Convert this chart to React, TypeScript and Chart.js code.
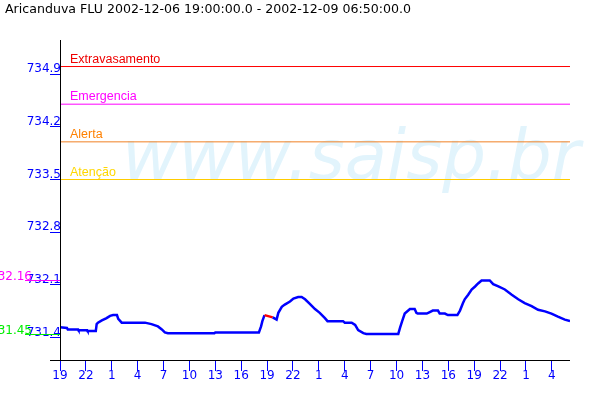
import React, { useEffect, useRef } from "react";
import { Chart, registerables } from "chart.js";

Chart.register(...registerables);

const TITLE = "Aricanduva FLU 2002-12-06 19:00:00.0 - 2002-12-09 06:50:00.0";
const START_HOUR = 19;
const X_MAX = 59.1;
const Y_MIN = 731.104;
const Y_MAX = 735.352;

// hours elapsed since 2002-12-06 19:00
const hours = [
  0, 0.8, 0.9, 2.1, 2.15, 3.15, 3.2, 4.15, 4.25, 4.4, 4.85, 5.4, 5.8, 6.15, 6.6, 6.75, 7.15, 9.85,
  10.6, 11.35, 11.8, 12.15, 12.5, 17.9, 18.0, 23.05, 23.3, 23.45, 23.7, 24.65, 25.1, 25.3, 25.7,
  26.05, 26.65, 27.05, 27.6, 28.0, 28.4, 28.95, 29.55, 30.1, 30.7, 31.0, 32.8, 33.0, 33.8, 34.2,
  34.55, 35.15, 35.5, 39.2, 39.4, 39.65, 39.95, 40.55, 41.1, 41.3, 41.45, 42.5, 42.85, 43.2, 43.8,
  44.0, 44.6, 44.95, 46.05, 46.35, 46.7, 46.9, 47.3, 47.7, 48.1, 48.45, 48.85, 49.8, 50.2, 50.8,
  51.55, 52.35, 53.1, 53.85, 54.65, 55.4, 56.2, 56.95, 57.7, 58.5, 59.1,
];
const levels = [
  731.54, 731.53, 731.51, 731.51, 731.5, 731.5, 731.49, 731.49, 731.58, 731.6, 731.63, 731.66,
  731.69, 731.7, 731.7, 731.65, 731.6, 731.6, 731.58, 731.55, 731.51, 731.47, 731.46, 731.46,
  731.47, 731.47, 731.55, 731.62, 731.7, 731.67, 731.64, 731.73, 731.81, 731.84, 731.88, 731.92,
  731.94, 731.94, 731.91, 731.85, 731.78, 731.73, 731.66, 731.62, 731.62, 731.6, 731.6, 731.57,
  731.5, 731.46, 731.45, 731.45, 731.53, 731.62, 731.72, 731.78, 731.78, 731.73, 731.72, 731.72,
  731.74, 731.76, 731.76, 731.72, 731.72, 731.7, 731.7, 731.76, 731.86, 731.91, 731.97, 732.04,
  732.08, 732.12, 732.16, 732.16, 732.11, 732.08, 732.04, 731.97, 731.91, 731.86, 731.82, 731.77,
  731.75, 731.72, 731.68, 731.64, 731.62,
];
// segment with missing data (drawn red), start hour
const gapStartHour = 23.7;

const thresholdNames = ["Extravasamento", "Emergencia", "Alerta", "Atenção"];
const thresholdValues = [735.0, 734.5, 734.0, 733.5];
const thresholdLineColors = ["#ff0000", "#ff00ff", "#f08024", "#ffcc00"];
const thresholdTextColors = ["#ee0000", "#ff00ff", "#ff8000", "#ffd700"];

const yTicks = [731.4, 732.1, 732.8, 733.5, 734.2, 734.9];
const xTickHours = [0, 3, 6, 9, 12, 15, 18, 21, 24, 27, 30, 33, 36, 39, 42, 45, 48, 51, 54, 57];

const markerValues = [732.16, 731.45];
const markerLabels = ["732.16", "731.45"];
const markerColors = ["#ff00ff", "#00ee00"];

const FONT = '"DejaVu Sans", sans-serif';

export default function App() {
  const ref = useRef<HTMLCanvasElement | null>(null);

  useEffect(() => {
    if (!ref.current) return;

    const decor = {
      id: "decor",
      beforeDatasetsDraw(chart: any) {
        const c = chart.ctx;
        c.save();
        c.fillStyle = "#e2f4fc";
        c.font = 'italic 69px "DejaVu Sans", sans-serif';
        c.textBaseline = "alphabetic";
        c.textAlign = "left";
        c.fillText("www.saisp.br", 122, 179);
        c.restore();
      },
      afterDraw(chart: any) {
        const c = chart.ctx;
        const x = chart.scales.x;
        const y = chart.scales.y;
        const ca = chart.chartArea;
        c.save();
        // title
        c.fillStyle = "#000";
        c.font = "12.6px " + FONT;
        c.textBaseline = "alphabetic";
        c.textAlign = "left";
        c.fillText(TITLE, 5, 13);
        // threshold labels
        c.font = '12.5px "Liberation Sans", sans-serif';
        thresholdNames.forEach((n, i) => {
          c.fillStyle = thresholdTextColors[i];
          c.fillText(n, ca.left + 10, Math.round(y.getPixelForValue(thresholdValues[i])) - 4);
        });
        // min/max markers
        c.font = "12px " + FONT;
        markerValues.forEach((v, i) => {
          const py = Math.round(y.getPixelForValue(v)) + 0.5;
          c.strokeStyle = markerColors[i];
          c.lineWidth = 1;
          c.beginPath();
          c.moveTo(25, py);
          c.lineTo(ca.left, py);
          c.stroke();
          c.fillStyle = markerColors[i];
          c.textAlign = "right";
          c.fillText(markerLabels[i], 32, py - 0.5);
        });
        // axes
        c.strokeStyle = "#000";
        c.lineWidth = 1;
        c.beginPath();
        c.moveTo(ca.left + 0.5, ca.top);
        c.lineTo(ca.left + 0.5, ca.bottom);
        c.moveTo(ca.left - 10, ca.bottom + 0.5);
        c.lineTo(x.getPixelForValue(X_MAX), ca.bottom + 0.5);
        c.stroke();
        c.restore();
      },
    };

    const thresholdDatasets = thresholdNames.map((n, i) => ({
      label: n,
      data: [
        { x: 0, y: thresholdValues[i] },
        { x: X_MAX, y: thresholdValues[i] },
      ],
      borderColor: thresholdLineColors[i],
      borderWidth: 1,
      pointRadius: 0,
    }));

    const chart = new Chart(ref.current, {
      type: "line",
      data: {
        datasets: [
          ...thresholdDatasets,
          {
            label: "Nível",
            data: hours.map((h, i) => ({ x: h, y: levels[i] })),
            borderColor: "#0000ff",
            borderWidth: 2.5,
            pointRadius: 0,
            tension: 0,
            segment: {
              borderColor: (ctx: any) => (ctx.p0.parsed.x === gapStartHour ? "#ff0000" : undefined),
            },
          },
        ],
      },
      options: {
        responsive: false,
        animation: false,
        devicePixelRatio: 1,
        layout: { padding: { top: 40, right: 30, left: 0, bottom: 0 } },
        plugins: { legend: { display: false }, tooltip: { enabled: false }, title: { display: false } },
        scales: {
          x: {
            type: "linear",
            min: 0,
            max: X_MAX,
            afterBuildTicks: (s: any) => {
              s.ticks = xTickHours.map((v) => ({ value: v }));
            },
            afterFit: (s: any) => {
              s.height = 40;
            },
            border: { display: false },
            grid: { drawOnChartArea: false, drawTicks: true, tickLength: 11, color: "#0000ff" },
            ticks: {
              color: "#0000ff",
              font: { family: FONT, size: 12 },
              padding: -2,
              autoSkip: false,
              maxRotation: 0,
              callback: (v: any) => String((START_HOUR + Number(v)) % 24),
            },
          },
          y: {
            type: "linear",
            min: Y_MIN,
            max: Y_MAX,
            afterBuildTicks: (s: any) => {
              s.ticks = yTicks.map((v) => ({ value: v }));
            },
            afterFit: (s: any) => {
              s.width = 60;
            },
            border: { display: false },
            grid: { drawOnChartArea: false, drawTicks: true, tickLength: 10, color: "#0000ff" },
            ticks: {
              color: "#0000ff",
              font: { family: FONT, size: 12 },
              padding: -11,
              labelOffset: -5,
              autoSkip: false,
              callback: (v: any) => Number(v).toFixed(1),
            },
          },
        },
      },
      plugins: [decor],
    } as any);

    return () => chart.destroy();
  }, []);

  return (
    <div style={{ position: "absolute", left: 0, top: 0, width: 600, height: 400, background: "#fff" }}>
      <canvas ref={ref} width={600} height={400} />
    </div>
  );
}
